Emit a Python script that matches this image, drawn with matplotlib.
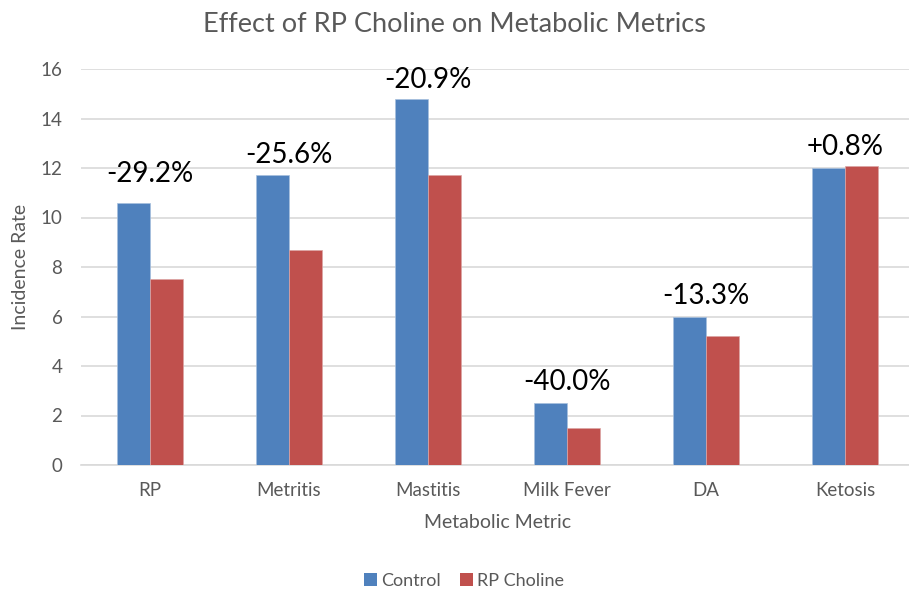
import matplotlib
matplotlib.use("Agg")
import matplotlib.pyplot as plt
import numpy as np
from matplotlib.patches import Patch

categories = ["RP", "Metritis", "Mastitis", "Milk Fever", "DA", "Ketosis"]
control = [10.6, 11.7, 14.8, 2.5, 6.0, 12.0]
rp_choline = [7.5, 8.7, 11.7, 1.5, 5.2, 12.1]
change_labels = ["-29.2%", "-25.6%", "-20.9%", "-40.0%", "-13.3%", "+0.8%"]
yticks = [0, 2, 4, 6, 8, 10, 12, 14, 16]

label_offsets_px = [21, 12, 11, 13, 13, 11]

plt.rcParams['font.family'] = ['Lato', 'DejaVu Sans']
W, H = 909, 593
fig = plt.figure(figsize=(W / 100, H / 100), dpi=100)
left, right, bottom, top = 80.5, 914.5, 465, 69
ax = fig.add_axes([left / W, 1 - bottom / H, (right - left) / W, (bottom - top) / H])

blue = "#4F81BD"
red = "#C0504D"
gray = "#595959"

x = np.arange(len(categories))
w = 0.237
ax.bar(x - w / 2, control, w, color=blue, edgecolor="#A7C0DE", linewidth=0.5, zorder=3)
ax.bar(x + w / 2, rp_choline, w, color=red, edgecolor="#DCA5A4", linewidth=0.5, zorder=3)

ax.set_xlim(-0.5, len(categories) - 0.5)
ax.set_ylim(0, 16)
ax.set_yticks(yticks)
ax.yaxis.grid(True, color="#D9D9D9", linewidth=1.2, zorder=0)
ax.set_axisbelow(True)
for s in ["top", "right", "left"]:
    ax.spines[s].set_visible(False)
ax.spines["bottom"].set_color("#D9D9D9")
ax.spines["bottom"].set_linewidth(1.2)
ax.tick_params(axis="both", length=0, colors=gray, labelsize=13.5)
ax.tick_params(axis="y", pad=13)
ax.tick_params(axis="x", pad=12)
ax.set_xticks(x)
ax.set_xticklabels(categories)

for i, lab in enumerate(change_labels):
    top_val = max(control[i], rp_choline[i])
    ax.annotate(lab, xy=(x[i], top_val), xytext=(0, label_offsets_px[i] * 0.72),
                textcoords="offset points", ha="center", va="baseline",
                fontsize=20, color="black", zorder=5)

ax.set_ylabel("Incidence Rate", color=gray, fontsize=14, labelpad=8)
ax.set_xlabel("Metabolic Metric", color=gray, fontsize=14, labelpad=11)
fig.text(0.5, 1 - 25 / H, "Effect of RP Choline on Metabolic Metrics",
         ha="center", va="center", color=gray, fontsize=19.5)

handles = [Patch(facecolor=blue, label="Control"), Patch(facecolor=red, label="RP Choline")]
fig.legend(handles=handles, loc="center", bbox_to_anchor=(464 / W, 1 - 581 / H), ncol=2,
           frameon=False, fontsize=13, handlelength=0.7, handleheight=0.7,
           handletextpad=0.2, columnspacing=1.1, labelcolor=gray)

fig.savefig("out.png", dpi=100)
